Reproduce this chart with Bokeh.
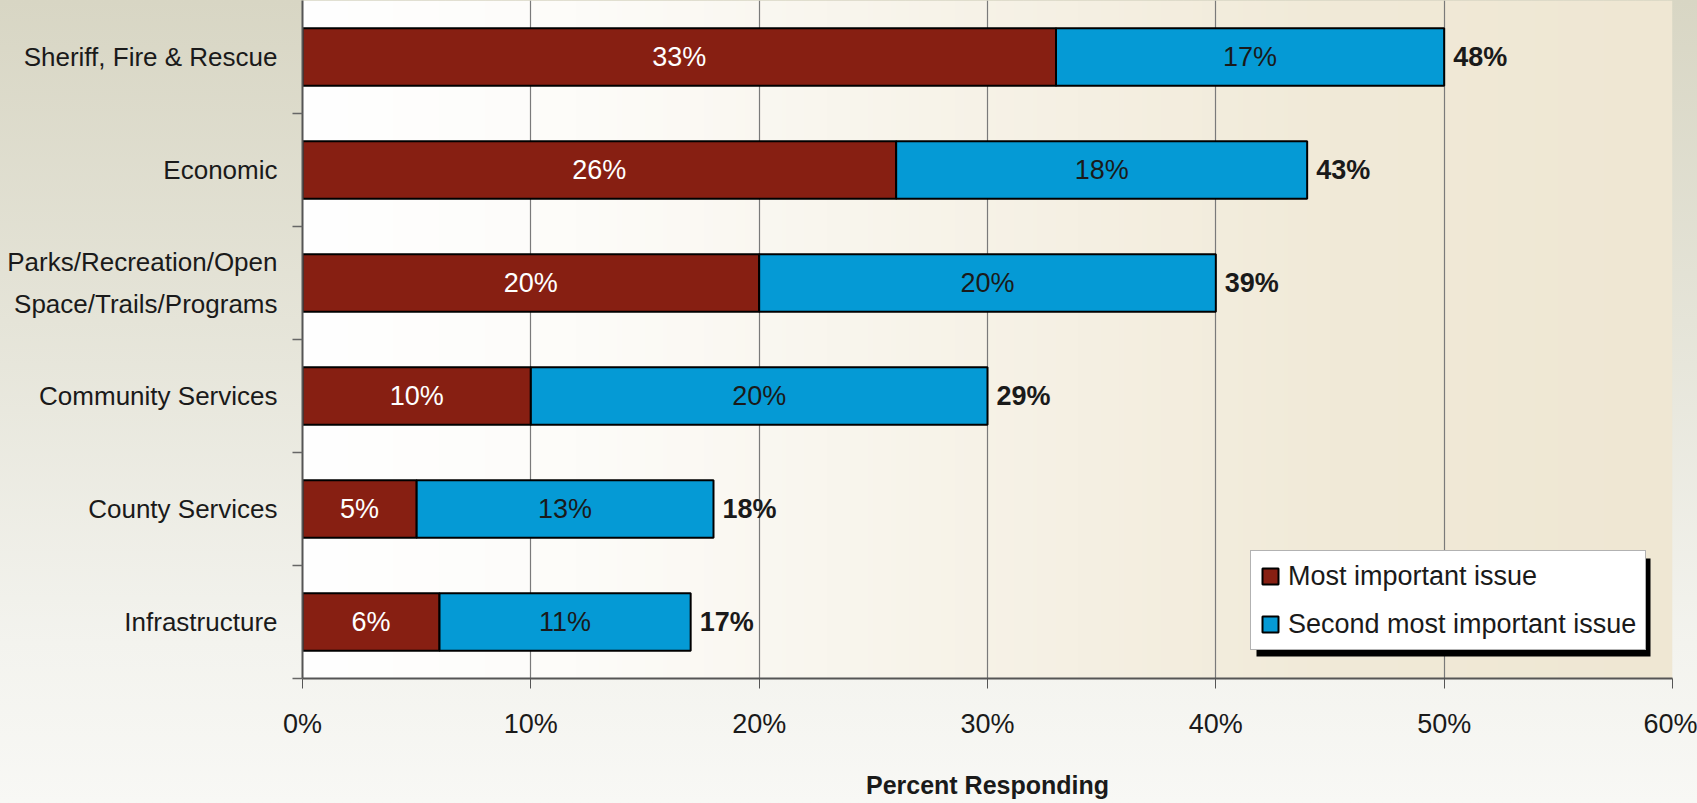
import numpy as np
from bokeh.plotting import figure
from bokeh.models import (ColumnDataSource, FixedTicker, Range1d, Legend,
                          LegendItem, BoxAnnotation)
from bokeh.core.properties import value
from bokeh.embed import file_html
from bokeh.resources import INLINE

# ---------------- data ----------------
categories = [
    "Sheriff, Fire & Rescue",
    "Economic",
    "Parks/Recreation/Open\nSpace/Trails/Programs",
    "Community Services",
    "County Services",
    "Infrastructure",
]
most_important = [33, 26, 20, 10, 5, 6]
second_most = [17, 18, 20, 20, 13, 11]
total_labels = ["48%", "43%", "39%", "29%", "18%", "17%"]
series_names = ["Most important issue", "Second most important issue"]
x_ticks = [0, 10, 20, 30, 40, 50, 60]
x_tick_labels = ["0%", "10%", "20%", "30%", "40%", "50%", "60%"]
x_title = "Percent Responding"

# ---------------- style ----------------
FONT = "Liberation Sans"
RED = "#871f12"
BLUE = "#059ad5"
TXT = "#1a1a1a"
FS = "27px"

n = len(categories)
ypos = [n - 1 - i + 0.5 for i in range(n)]
total = [a + b for a, b in zip(most_important, second_most)]
src = ColumnDataSource(dict(
    y=ypos,
    first=most_important,
    second=second_most,
    total=total,
    mid1=[a / 2 for a in most_important],
    mid2=[a + b / 2 for a, b in zip(most_important, second_most)],
    lab1=[f"{v}%" for v in most_important],
    lab2=[f"{v}%" for v in second_most],
    labt=total_labels,
))

W, H = 1697, 803
BL, BR, BT, BB = 302, 25, 0, 125
FRAME_W = W - BL - BR
FRAME_H = H - BT - BB
y_top = float(n)

p = figure(width=W, height=H,
           x_range=Range1d(0, 60), y_range=Range1d(0, y_top),
           output_backend="svg", toolbar_location=None,
           min_border_left=BL, min_border_right=BR,
           min_border_top=BT, min_border_bottom=BB)
p.border_fill_alpha = 0
p.background_fill_alpha = 0
p.outline_line_color = None
p.styles = {"background": "linear-gradient(to bottom, #d8d6c4 0%, #e5e4d8 40%, #f3f3ee 80%, #f8f8f5 100%)"}

# plot-area horizontal gradient
stops_x = [0, 12, 45, 60]
stops_c = [(255, 255, 255), (253, 252, 249), (241, 234, 216), (239, 231, 211)]
N = 300
xs = np.linspace(0, 60, N)
img = np.empty((1, N), dtype=np.uint32)
view = img.view(dtype=np.uint8).reshape((1, N, 4))
for k in range(3):
    view[0, :, k] = np.interp(xs, stops_x, [c[k] for c in stops_c]).astype(np.uint8)
view[0, :, 3] = 255
p.image_rgba(image=[img], x=0, y=0, dw=60, dh=y_top, level="image")

r1 = p.hbar(y="y", left=0, right="first", height=0.51, source=src,
            fill_color=RED, line_color="black", line_width=2)
r2 = p.hbar(y="y", left="first", right="total", height=0.51, source=src,
            fill_color=BLUE, line_color="black", line_width=2)

p.text(x="mid1", y="y", text="lab1", source=src, text_align="center",
       text_baseline="middle", text_color="white", text_font=value(FONT),
       text_font_size=FS)
p.text(x="mid2", y="y", text="lab2", source=src, text_align="center",
       text_baseline="middle", text_color=TXT, text_font=value(FONT),
       text_font_size=FS)
p.text(x="total", y="y", text="labt", source=src, text_align="left",
       text_baseline="middle", text_color=TXT, text_font=value(FONT),
       text_font_size=FS, text_font_style="bold", x_offset=9)

# grid
p.ygrid.grid_line_color = None
p.xgrid.ticker = FixedTicker(ticks=x_ticks)
p.xgrid.grid_line_color = "#7a7a7a"
p.xgrid.grid_line_width = 1.2

# x axis
xa = p.xaxis[0]
xa.ticker = FixedTicker(ticks=x_ticks)
xa.major_label_overrides = {t: l for t, l in zip(x_ticks, x_tick_labels)}
xa.axis_line_color = "#555555"
xa.axis_line_width = 2
xa.major_tick_line_color = "#555555"
xa.major_tick_out = 10
xa.major_tick_in = 0
xa.minor_tick_line_color = None
xa.major_label_text_font = FONT
xa.major_label_text_font_size = FS
xa.major_label_text_color = TXT
xa.major_label_standoff = 20
xa.axis_label = x_title
xa.axis_label_text_font = FONT
xa.axis_label_text_font_size = "25px"
xa.axis_label_text_font_style = "bold"
xa.axis_label_text_color = TXT
xa.axis_label_standoff = 29

# y axis: labels at category centres, ticks at category boundaries
ya = p.yaxis[0]
ya.ticker = FixedTicker(ticks=ypos, minor_ticks=list(range(n)))
ya.major_label_overrides = {y: c for y, c in zip(ypos, categories)}
ya.axis_line_color = "#555555"
ya.axis_line_width = 2
ya.major_tick_out = 0
ya.major_tick_in = 0
ya.minor_tick_out = 10
ya.minor_tick_in = 0
ya.minor_tick_line_color = "#666666"
ya.minor_tick_line_width = 1.5
ya.major_label_text_font = FONT
ya.major_label_text_font_size = "26px"
ya.major_label_text_color = TXT
ya.major_label_text_line_height = 1.38
ya.major_label_standoff = 15

# legend + shadow
LEG_X, LEG_Y, LEG_W, LEG_H, SH = 948, 28, 394, 98, 6
dx = 60.0 / FRAME_W
dy = y_top / FRAME_H
p.add_layout(BoxAnnotation(left=(LEG_X + SH) * dx, right=(LEG_X + LEG_W + SH) * dx,
                           bottom=(LEG_Y - SH) * dy, top=(LEG_Y + LEG_H - SH) * dy,
                           fill_color="black", fill_alpha=1, line_alpha=0))
legend = Legend(items=[LegendItem(label=series_names[0], renderers=[r1]),
                       LegendItem(label=series_names[1], renderers=[r2])],
                location=(LEG_X, LEG_Y))
legend.label_text_font = FONT
legend.label_text_font_size = FS
legend.label_text_color = TXT
legend.glyph_width = 20
legend.glyph_height = 20
legend.label_height = 32
legend.label_standoff = 8
legend.spacing = 16
legend.padding = 9
legend.margin = 0
legend.border_line_color = "#666666"
legend.border_line_width = 1.5
legend.background_fill_color = "white"
legend.background_fill_alpha = 1
p.add_layout(legend, "center")

open("out.html", "w").write(file_html(p, INLINE))
